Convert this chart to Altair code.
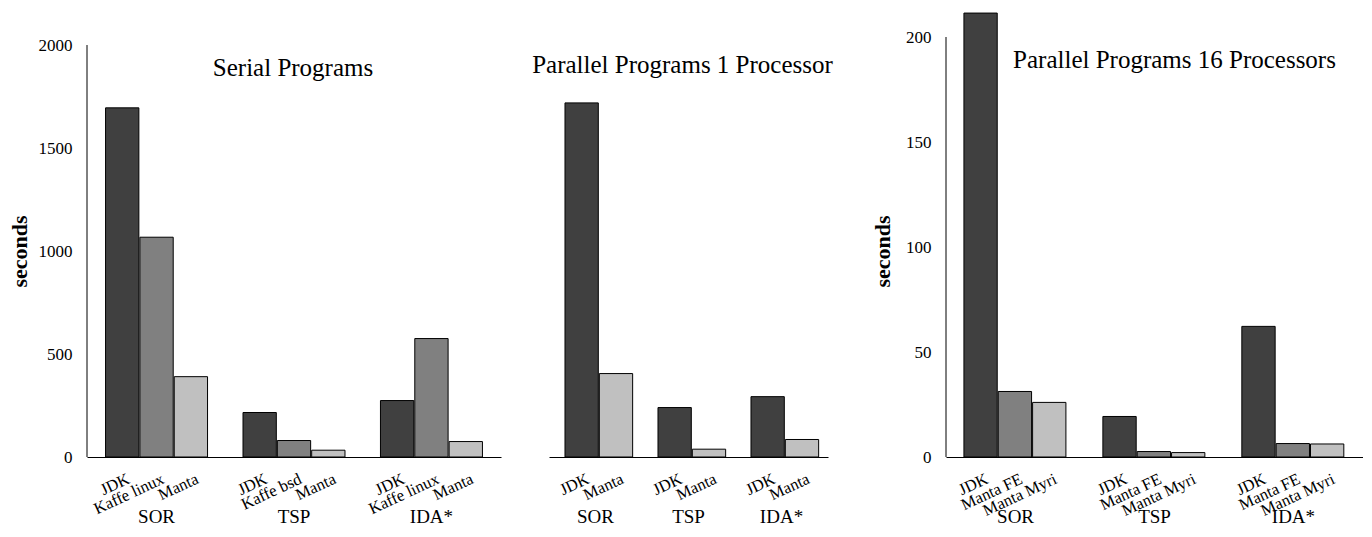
import altair as alt
import pandas as pd

FONT = "Liberation Serif"

groups = ["SOR", "TSP", "IDA*"]

# Serial programs
serial_labels = [["JDK", "Kaffe linux", "Manta"],
                 ["JDK", "Kaffe bsd", "Manta"],
                 ["JDK", "Kaffe linux", "Manta"]]
serial_jdk = [1695, 216, 274]
serial_kaffe = [1067, 80, 575]
serial_manta = [390, 33, 75]

# Parallel programs, 1 processor
par1_labels = ["JDK", "Manta"]
par1_jdk = [1719, 240, 293]
par1_manta = [405, 38, 85]

# Parallel programs, 16 processors
par16_labels = ["JDK", "Manta FE", "Manta Myri"]
par16_jdk = [211.4, 19.3, 62.2]
par16_fe = [31.2, 2.6, 6.4]
par16_myri = [26.0, 2.1, 6.2]

shades = ["dark", "mid", "light"]
shade_colors = ["#404040", "#808080", "#c0c0c0"]


def build(series_values, labels_per_group, shade_keys):
    rows = []
    for gi, g in enumerate(groups):
        for si, vals in enumerate(series_values):
            rows.append({"group": g, "slot": str(si),
                         "label": labels_per_group[gi][si],
                         "shade": shade_keys[si], "value": vals[gi]})
    return pd.DataFrame(rows)


serial_df = build([serial_jdk, serial_kaffe, serial_manta], serial_labels, shades)
par1_df = build([par1_jdk, par1_manta], [par1_labels] * 3, ["dark", "light"])
par16_df = build([par16_jdk, par16_fe, par16_myri], [par16_labels] * 3, shades)

PLOT_H = 447


def panel(df, width, range_w, ymax, axis_max, tick_values, pad_inner, pad_outer,
          title, title_x, title_y, show_axis, title_pad=8):
    xenc = alt.X("group:N", sort=groups,
                 scale=alt.Scale(paddingInner=pad_inner, paddingOuter=pad_outer,
                                 range=[0, range_w]),
                 axis=alt.Axis(title=None, labelAngle=0, ticks=False, tickSize=0,
                               labelPadding=50, labelFontSize=19, labelFont=FONT,
                               labelColor="black", domainColor="black",
                               domainWidth=1, grid=False))
    xoff = alt.XOffset("slot:N", scale=alt.Scale(paddingInner=0.03))
    if show_axis:
        yaxis = alt.Axis(title="seconds", values=tick_values, format="d",
                         ticks=False, tickSize=0,
                         domain=False, grid=False, labelFontSize=17, labelFont=FONT,
                         labelColor="black", labelPadding=15, titleFont=FONT,
                         titleFontSize=22, titleFontWeight="bold", titleColor="black",
                         titlePadding=title_pad, titleY=241)
    else:
        yaxis = None
    yenc = alt.Y("value:Q", scale=alt.Scale(domain=[0, ymax], nice=False, zero=True),
                 axis=yaxis)

    base = alt.Chart(df)
    bars = base.mark_bar(stroke="black", strokeWidth=1, clip=False).encode(
        x=xenc, xOffset=xoff, y=yenc,
        color=alt.Color("shade:N", scale=alt.Scale(domain=shades, range=shade_colors),
                        legend=None))
    labels = base.mark_text(angle=335, align="right", baseline="top", dx=-3, dy=14,
                            fontSize=16.5, font=FONT, color="black").encode(
        x=xenc, xOffset=xoff, y=alt.datum(0), text="label:N")
    ttl = alt.Chart(pd.DataFrame({"t": [title]})).mark_text(
        align="center", baseline="alphabetic", fontSize=25, font=FONT,
        color="black").encode(x=alt.value(title_x), y=alt.value(title_y), text="t:N")
    layers = [bars, labels, ttl]
    if show_axis:
        rule = alt.Chart(pd.DataFrame({"a": [0]})).mark_rule(
            color="black", strokeWidth=1).encode(
            x=alt.value(0), y=alt.datum(0), y2=alt.datum(axis_max))
        layers.append(rule)
    return alt.layer(*layers).properties(width=width, height=PLOT_H)


p1 = panel(serial_df, 414, 414, 2170, 2000, [0, 500, 1000, 1500, 2000], 0.258, 0.135,
           "Serial Programs", 206, 66, True, title_pad=7)
p2 = panel(par1_df, 349, 279, 2170, 2000, [0, 500, 1000, 1500, 2000], 0.344, 0.172,
           "Parallel Programs 1 Processor", 133.5, 63, False)
p3 = panel(par16_df, 417, 417, 212.86, 200, [0, 50, 100, 150, 200], 0.257, 0.129,
           "Parallel Programs 16 Processors", 228.5, 58, True, title_pad=11)

chart = alt.hconcat(p1, p2, p3, spacing=48, bounds="flush").properties(
    padding={"left": 0, "top": 2, "right": 0, "bottom": 0},
    background="white",
).configure_view(stroke=None)

chart.save("out.html", embed_options={"renderer": "svg", "actions": False})
